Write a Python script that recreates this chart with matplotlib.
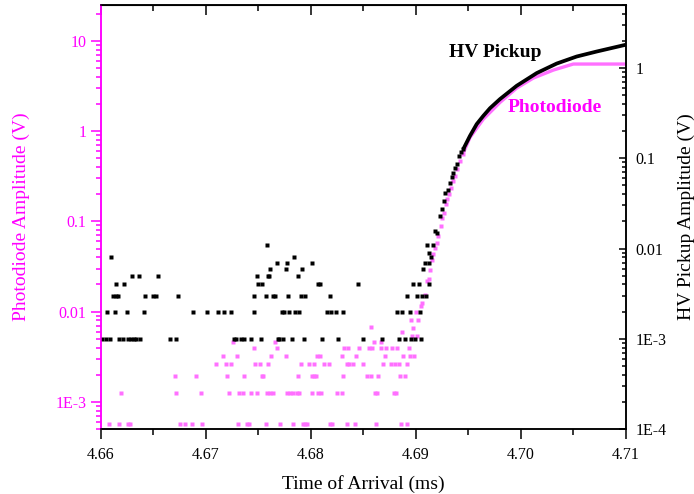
import math
import matplotlib
matplotlib.use('Agg')
import matplotlib.pyplot as plt
from matplotlib.ticker import FixedLocator, FuncFormatter, NullFormatter, MultipleLocator, LogLocator

## Colours
pd_color = '#ff70ff'   # photodiode points / line
pd_axis = '#ff00ff'    # left axis and text
hv_color = 'black'

## HV pickup noise floor, quantised in 1 mV steps: times (ms) for each level
hv_t1 = [4.66012, 4.66045, 4.66083, 4.66171, 4.66212, 4.66254, 4.66286, 4.66314, 4.66333, 4.66371,
         4.66660, 4.66714, 4.67270, 4.67283, 4.67330, 4.67362, 4.67431, 4.67524, 4.67683, 4.67695,
         4.67730, 4.67822, 4.67938, 4.68108, 4.68260, 4.68492, 4.68673, 4.68841, 4.68898, 4.68950,
         4.68993, 4.69050]
hv_t2 = [4.66060, 4.66133, 4.66245, 4.66412, 4.66873, 4.67012, 4.67111, 4.67171, 4.67241, 4.67460,
         4.67724, 4.67743, 4.67790, 4.67848, 4.67883, 4.68155, 4.68190, 4.68241, 4.68302, 4.68822,
         4.68864, 4.68940, 4.69035]
hv_t3 = [4.66117, 4.66140, 4.66165, 4.66422, 4.66498, 4.66524, 4.66733, 4.67454, 4.67571, 4.67641,
         4.67660, 4.67781, 4.67905, 4.67943, 4.68181, 4.68911, 4.69012, 4.69057, 4.69095]
hv_t4 = [4.66143, 4.66222, 4.67498, 4.67530, 4.68070, 4.68086, 4.68450, 4.68967, 4.69029, 4.69124]
hv_t5 = [4.66292, 4.66365, 4.66546, 4.67483, 4.67588, 4.67603, 4.67873]
hv_t6 = [4.67612, 4.67759, 4.67911, 4.69070]
hv_t7 = [4.67673, 4.67771, 4.68010, 4.69083, 4.69126]
hv_t8 = [4.66095, 4.67838, 4.69143]
hv_t9 = [4.69121]
hv_t11 = [4.67581, 4.69108, 4.69162]
hv_noise_levels = [0.001, 0.002, 0.003, 0.004, 0.005, 0.006, 0.007, 0.008, 0.009, 0.011]
hv_noise_times = [hv_t1, hv_t2, hv_t3, hv_t4, hv_t5, hv_t6, hv_t7, hv_t8, hv_t9, hv_t11]

## HV pickup rising edge (points) and smooth tail (line)
hv_rise_t = [4.69181, 4.69203, 4.69229, 4.69250, 4.69270, 4.69276, 4.69302, 4.69324, 4.69340,
             4.69355, 4.69371, 4.69388, 4.69412, 4.69431, 4.69450]
hv_rise_v = [0.0156, 0.0149, 0.0229, 0.0271, 0.0335, 0.0416, 0.0445, 0.0537, 0.0626,
             0.0693, 0.0788, 0.0858, 0.106, 0.1175, 0.126]
hv_tail_t = [4.69450, 4.69514, 4.69578, 4.69641, 4.69705, 4.69800, 4.69959, 4.70150, 4.70340,
             4.70530, 4.70721, 4.71000]
hv_tail_v = [0.126, 0.177, 0.239, 0.295, 0.359, 0.453, 0.636, 0.880, 1.122, 1.342, 1.525, 1.815]

## Photodiode noise floor (~0.65 mV steps): level values and times
pd_noise_levels = [0.57e-3, 1.245e-3, 1.93e-3, 2.62e-3, 3.26e-3, 3.94e-3, 4.62e-3]
pd_L1 = [4.66081, 4.66171, 4.66257, 4.66281, 4.66752, 4.66803, 4.66864, 4.66965, 4.67305, 4.67390,
         4.67412, 4.67571, 4.67705, 4.67829, 4.67921, 4.67946, 4.67965, 4.68181, 4.68197, 4.68343,
         4.68419, 4.68619, 4.68857, 4.68919]
pd_L2 = [4.66193, 4.66712, 4.66952, 4.67216, 4.67310, 4.67350, 4.67424, 4.67490, 4.67581, 4.67607,
         4.67638, 4.67773, 4.67800, 4.67826, 4.67864, 4.67888, 4.68005, 4.68069, 4.68100, 4.68250,
         4.68300, 4.68610, 4.68631, 4.68786, 4.68810]
pd_L3 = [4.66702, 4.66905, 4.67203, 4.67365, 4.67530, 4.67546, 4.67881, 4.68010, 4.68031, 4.68052,
         4.68308, 4.68536, 4.68569, 4.68641, 4.68848, 4.68900]
pd_L4 = [4.67092, 4.67193, 4.67241, 4.67470, 4.67511, 4.67590, 4.67902, 4.67981, 4.68029, 4.68121,
         4.68174, 4.68346, 4.68362, 4.68403, 4.68492, 4.68689, 4.68762, 4.68800, 4.68835, 4.68911]
pd_L5 = [4.67162, 4.67292, 4.67622, 4.67762, 4.68054, 4.68089, 4.68292, 4.68429, 4.68705, 4.68879,
         4.68943, 4.68981]
pd_L6 = [4.67454, 4.67679, 4.68319, 4.68357, 4.68460, 4.68555, 4.68581, 4.68664, 4.68717, 4.68771,
         4.68819, 4.68929]
pd_L7 = [4.67260, 4.67660, 4.68600, 4.68667]
pd_noise_times = [pd_L1, pd_L2, pd_L3, pd_L4, pd_L5, pd_L6, pd_L7]

## Photodiode rising edge (points) and saturating tail (line)
pd_rise_t = [4.68576, 4.68870, 4.68962, 4.69007, 4.68974, 4.68950, 4.69019, 4.69000, 4.69045, 4.69057,
             4.69089, 4.69108, 4.69121, 4.69133, 4.69150, 4.69165, 4.69184, 4.69197, 4.69212,
             4.69238, 4.69250, 4.69270, 4.69286, 4.69298, 4.69317, 4.69333, 4.69355, 4.69371,
             4.69393, 4.69419, 4.69445]
pd_rise_v = [6.7e-3, 5.94e-3, 5.3e-3, 5.3e-3, 6.57e-3, 7.99e-3, 7.99e-3, 9.9e-3, 0.0114, 0.01246,
             0.0151, 0.022, 0.023, 0.0292, 0.0377, 0.0437, 0.0509, 0.0578, 0.0685,
             0.0885, 0.110, 0.125, 0.154, 0.175, 0.199, 0.236, 0.280, 0.318,
             0.378, 0.467, 0.553]
pd_tail_t = [4.69445, 4.69514, 4.69641, 4.69800, 4.69959, 4.70117, 4.70308, 4.70498, 4.71000]
pd_tail_v = [0.553, 0.849, 1.357, 2.08, 3.00, 3.87, 4.75, 5.54, 5.54]

plt.rcParams['font.family'] = ['Liberation Serif', 'DejaVu Serif']

fig = plt.figure(figsize=(6.94, 4.94), dpi=100)
ax = fig.add_axes([0.1455, 0.1316, 0.7565, 0.8583])
ax2 = ax.twinx()

msz = 2.4
## Photodiode on left axis
for lev, ts in zip(pd_noise_levels, pd_noise_times):
    ax.plot(ts, [lev] * len(ts), 's', ms=msz, color=pd_color, mec='none')
ax.plot(pd_rise_t, pd_rise_v, 's', ms=msz, color=pd_color, mec='none')
ax.plot(pd_tail_t, pd_tail_v, '-', lw=2.4, color=pd_color, solid_capstyle='butt')

## HV pickup on right axis
for lev, ts in zip(hv_noise_levels, hv_noise_times):
    ax2.plot(ts, [lev] * len(ts), 's', ms=msz, color=hv_color, mec='none')
ax2.plot(hv_rise_t, hv_rise_v, 's', ms=msz + 0.4, color=hv_color, mec='none')
ax2.plot(hv_tail_t, hv_tail_v, '-', lw=2.7, color=hv_color, solid_capstyle='butt')

ax.set_yscale('log')
ax2.set_yscale('log')
ax.set_xlim(4.66, 4.71)
ax.set_ylim(5e-4, 25)
ax2.set_ylim(1e-4, 5)

def logfmt(v, pos):
    if v >= 1:
        return '%d' % round(v)
    if v >= 0.01:
        return ('%.2f' % v).rstrip('0')
    return '1E%d' % round(math.log10(v))

for a, ticks in ((ax, [1e-3, 1e-2, 0.1, 1, 10]), (ax2, [1e-4, 1e-3, 1e-2, 0.1, 1])):
    a.yaxis.set_major_locator(FixedLocator(ticks))
    a.yaxis.set_major_formatter(FuncFormatter(logfmt))
    a.yaxis.set_minor_locator(LogLocator(base=10, subs=range(2, 10), numticks=20))
    a.yaxis.set_minor_formatter(NullFormatter())

ax.xaxis.set_major_locator(MultipleLocator(0.01))
ax.xaxis.set_minor_locator(MultipleLocator(0.005))
ax.xaxis.set_major_formatter(FuncFormatter(lambda v, p: '%.2f' % v))

ax.tick_params(axis='x', which='major', direction='out', length=7, width=1.1, labelsize=11.5, pad=6)
ax.tick_params(axis='x', which='minor', direction='out', length=4, width=1.1)
ax.tick_params(axis='y', which='major', direction='out', length=7, width=1.1, color=pd_axis,
               labelcolor=pd_axis, labelsize=11.5)
ax.tick_params(axis='y', which='minor', direction='out', length=3.5, width=1.1, color=pd_axis)
ax2.tick_params(axis='y', which='major', direction='in', length=5, width=1.1, labelsize=11.5, pad=7)
ax2.tick_params(axis='y', which='minor', direction='in', length=3, width=1.1)

## top axis ticks pointing inward
axt = ax.secondary_xaxis('top')
axt.xaxis.set_major_locator(MultipleLocator(0.01))
axt.xaxis.set_minor_locator(MultipleLocator(0.005))
axt.tick_params(axis='x', which='major', direction='in', length=7, width=1.1, labeltop=False)
axt.tick_params(axis='x', which='minor', direction='in', length=4, width=1.1)
axt.set_xticklabels([])

for a in (ax, ax2):
    for s in a.spines.values():
        s.set_linewidth(1.1)
ax2.spines['left'].set_color(pd_axis)
ax.spines['left'].set_color(pd_axis)

ax.set_xlabel('Time of Arrival (ms)', fontsize=14, labelpad=9)
ax.set_ylabel('Photodiode Amplitude (V)', fontsize=14, color=pd_axis, labelpad=18)
ax2.set_ylabel('HV Pickup Amplitude (V)', fontsize=14, labelpad=8)

ax2.text(4.69757, 1.5, 'HV Pickup', fontsize=14, fontweight='bold', ha='center', va='center')
ax2.text(4.70319, 0.37, 'Photodiode', fontsize=14, fontweight='bold', color=pd_axis,
         ha='center', va='center')

fig.savefig('out.png', dpi=100)
